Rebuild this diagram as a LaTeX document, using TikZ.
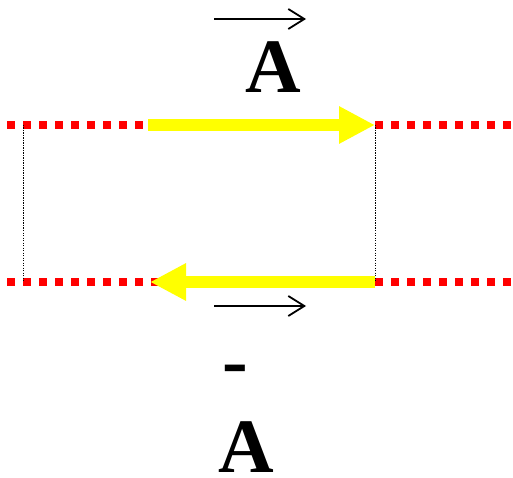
\documentclass[tikz,border=0pt]{standalone}
\usepackage{fontspec}
\setmainfont{Liberation Serif}
\usepackage{tikz}
\usetikzlibrary{arrows.meta}
\definecolor{wire}{RGB}{255,0,0}
\definecolor{flow}{RGB}{255,255,0}

\begin{document}
\begin{tikzpicture}[x=1pt, y=-1pt,
  wireline/.style={draw=wire, line width=7.5pt, dash pattern=on 7.5pt off 8.5pt},
  flowarrow/.style={draw=flow, line width=12pt, -{Triangle[length=36pt, width=35pt]}},
  sideline/.style={draw=black, line width=1pt, dash pattern=on 1.2pt off 1.3pt},
  vecarrow/.style={draw=black, line width=1.8pt, -{Straight Barb[length=16pt, width=20pt]}},
  symbol/.style={font=\bfseries\fontsize{77}{80}\selectfont, inner sep=0pt, anchor=base}]
  \useasboundingbox[fill=white] (0,0) rectangle (513,478);
  % loop corners
  \coordinate (tl) at (23,125);
  \coordinate (tr) at (375,125);
  \coordinate (bl) at (23,282);
  \coordinate (br) at (375,282);
  \coordinate (wtl) at (7,125);
  \coordinate (wtr) at (513,125);
  \coordinate (wbl) at (7,282);
  \coordinate (wbr) at (513,282);
  \coordinate (ftail) at (148,125);
  \coordinate (btip) at (150,282);
  \draw[wireline] (wtl) -- (wtr);
  \draw[wireline] (wbl) -- (wbr);
  \draw[sideline] (tl) -- (bl);
  \draw[sideline] (tr) -- (br);
  \draw[flowarrow] (ftail) -- (tr);
  \draw[flowarrow] (br) -- (btip);
  % labels
  \node[symbol] (atop) at (273,93) {A};
  \node[symbol] (minus) at (235.5,386) {-};
  \node[symbol] (abot) at (246,472) {A};
  \coordinate (v1a) at (214,19);
  \coordinate (v1b) at (306,19);
  \coordinate (v2a) at (214,306);
  \coordinate (v2b) at (306,306);
  \draw[vecarrow] (v1a) -- (v1b);
  \draw[vecarrow] (v2a) -- (v2b);
\end{tikzpicture}
\end{document}
